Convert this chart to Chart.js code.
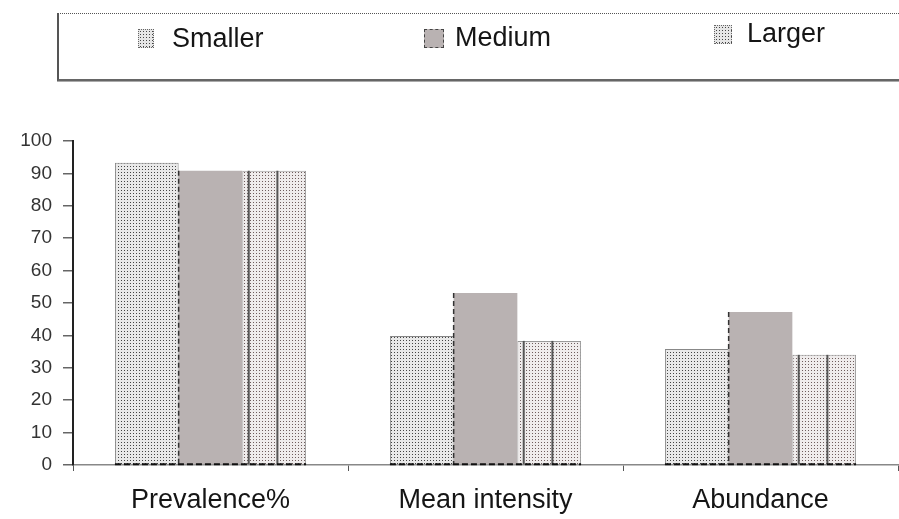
<!DOCTYPE html>
<html>
<head>
<meta charset="utf-8">
<script src="https://cdn.jsdelivr.net/npm/chart.js@4/dist/chart.umd.min.js"></script>
<style>
  html, body { margin: 0; padding: 0; background: #fff; }
  #wrap { position: relative; width: 899px; height: 519px; overflow: hidden; }
  #chart { position: absolute; left: 0; top: 0; }
  .legend-box {
    position: absolute; left: 57px; top: 13px; width: 900px; height: 65px;
    border-top: 1px dotted #555; border-left: 2px solid #555; border-bottom: 2px solid #666;
    box-shadow: 0 1px 0 #aaa;
  }
  .item { position: absolute; top: 29px; font: 27px "Liberation Sans", Arial, sans-serif; color: #151515; line-height: 27px; }
  .icon { position: absolute; width: 14px; height: 17px; top: 0; }
  .dots { background-color: #e6e6e6; background-image: radial-gradient(#444 0.7px, transparent 0.9px); background-size: 3px 3px; border: 1px dotted #666; }
  .solid { background: #b9b2b2; border: 1px dashed #444; }
</style>
</head>
<body>
<div id="wrap">
  <canvas id="chart" width="899" height="519"></canvas>
  <div class="legend-box"></div>
  <div class="item" style="left:138px"><span class="icon dots" style="left:0"></span><span style="position:absolute;left:34px;top:-4px">Smaller</span></div>
  <div class="item" style="left:424px"><span class="icon solid" style="left:0;width:18px"></span><span style="position:absolute;left:31px;top:-5px">Medium</span></div>
  <div class="item" style="left:714px"><span class="icon dots" style="left:0;width:16px;top:-4px"></span><span style="position:absolute;left:33px;top:-9px">Larger</span></div>
</div>
<script>
const categories = ["Prevalence%", "Mean intensity", "Abundance"]
const seriesNames = ["Smaller", "Medium", "Larger"]
const smallerValues = [93.3, 39.8, 35.8]
const mediumValues = [90.8, 53.1, 47.2]
const largerValues = [90.8, 38.3, 34.0]
const yMin = 0
const yMax = 100
const yStep = 10

// little dotted fills like the scanned hatching
const makeDots = (bg, dot) => {
    const c = document.createElement("canvas")
    c.width = 3; c.height = 3
    const g = c.getContext("2d")
    g.fillStyle = bg
    g.fillRect(0, 0, 3, 3)
    g.fillStyle = dot
    g.fillRect(1, 1, 1, 1)
    return g.createPattern(c, "repeat")
}

const ctx = document.getElementById("chart").getContext("2d")
const smallerFill = makeDots("#e9e9e9", "#444")
const largerFill = makeDots("#efecec", "#6e5c5c")

// draws the two dark lines in the Larger bars and the dashed base under each group
const extrasPlugin = {
    id: "extras",
    afterDatasetsDraw(chart) {
        const c = chart.ctx
        const larger = chart.getDatasetMeta(2).data
        c.save()
        c.strokeStyle = "#555"
        c.lineWidth = 2
        larger.forEach(bar => {
            const left = bar.x - bar.width / 2;
            [0.1, 0.55].forEach(f => {
                c.beginPath()
                c.moveTo(left + bar.width * f, bar.y)
                c.lineTo(left + bar.width * f, bar.base)
                c.stroke()
            })
        })
        // dashed dark left edge of the Medium bars
        c.strokeStyle = "#333"
        c.lineWidth = 1.5
        c.setLineDash([5, 3])
        chart.getDatasetMeta(1).data.forEach(bar => {
            c.beginPath()
            c.moveTo(bar.x - bar.width / 2, bar.y)
            c.lineTo(bar.x - bar.width / 2, bar.base)
            c.stroke()
        })
        c.strokeStyle = "#111"
        c.lineWidth = 2
        c.setLineDash([6, 3])
        categories.forEach((cat, i) => {
            const first = chart.getDatasetMeta(0).data[i]
            const last = chart.getDatasetMeta(2).data[i]
            c.beginPath()
            c.moveTo(first.x - first.width / 2, first.base)
            c.lineTo(last.x + last.width / 2, last.base)
            c.stroke()
        })
        c.restore()
    }
}

new Chart(ctx, {
    type: "bar",
    data: {
        labels: categories,
        datasets: [
            { label: seriesNames[0], data: smallerValues, backgroundColor: smallerFill, borderColor: "#888", borderWidth: 1 },
            { label: seriesNames[1], data: mediumValues, backgroundColor: "#b9b2b2", borderWidth: 0 },
            { label: seriesNames[2], data: largerValues, backgroundColor: largerFill, borderColor: "#999", borderWidth: 1 }
        ]
    },
    options: {
        responsive: false,
        animation: false,
        layout: { padding: { top: 141, right: 1, left: 0, bottom: 0 } },
        plugins: {
            legend: { display: false },
            tooltip: { enabled: false }
        },
        datasets: {
            bar: { categoryPercentage: 0.695, barPercentage: 1.0 }
        },
        scales: {
            x: {
                grid: { drawOnChartArea: false, tickLength: 6, color: "#555" },
                border: { display: true, color: "#888", width: 1.5, dash: [2, 2] },
                ticks: {
                    color: "#151515",
                    padding: 13,
                    font: { family: "Liberation Sans", size: 27 }
                },
                afterFit: scale => { scale.height = 54 }
            },
            y: {
                min: yMin,
                max: yMax,
                grid: { drawOnChartArea: false, tickLength: 10, color: "#666", lineWidth: 1.5 },
                border: { display: true, color: "#222", width: 2, dash: [2, 2] },
                ticks: {
                    stepSize: yStep,
                    color: "#333",
                    padding: 11,
                    font: { family: "Liberation Sans", size: 19 }
                },
                afterFit: scale => { scale.width = 73 }
            }
        }
    },
    plugins: [extrasPlugin]
})
</script>
</body>
</html>
